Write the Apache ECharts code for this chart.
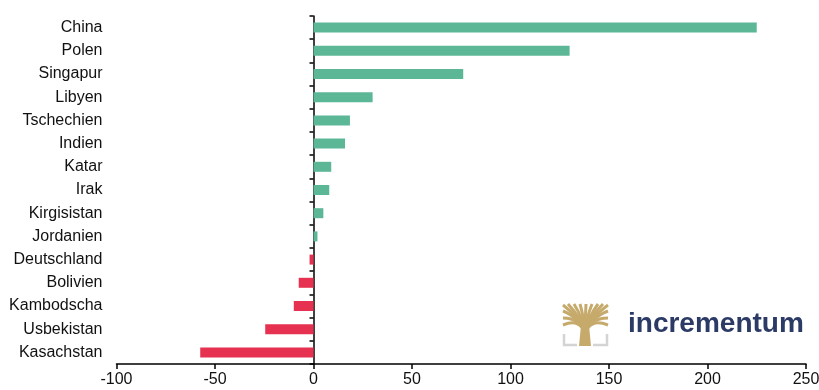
<!DOCTYPE html>
<html>
<head>
<meta charset="utf-8">
<script src="https://cdn.jsdelivr.net/npm/echarts@6/dist/echarts.min.js"></script>
<style>
  html, body { margin: 0; padding: 0; background: #fff; }
  #chart { width: 819px; height: 390px; }
</style>
</head>
<body>
<div id="chart"></div>
<script>
// Countries, top to bottom
const countries = ['China', 'Polen', 'Singapur', 'Libyen', 'Tschechien', 'Indien', 'Katar', 'Irak',
  'Kirgisistan', 'Jordanien', 'Deutschland', 'Bolivien', 'Kambodscha', 'Usbekistan', 'Kasachstan'];
// Net change per country
const values = [225, 130, 76, 30, 18.5, 16, 9, 8, 5, 2, -2, -7.5, -10, -24.5, -57.5];
// Value axis ticks
const xTicks = [-100, -50, 0, 50, 100, 150, 200, 250];

const GREEN = '#5cb797';
const RED = '#e63150';
const FONT = '"Liberation Sans", Arial, sans-serif';

const chart = echarts.init(document.getElementById('chart'), null, { renderer: 'canvas' });

// Tree mark of the logo
const gold = '#c6aa6b';
const grey = '#d4d4d4';
const cx = 585, base = 346;
const branchEnds = [
  [563, 305], [568, 304], [574, 304], [580, 304], [586, 304],
  [592, 304], [598, 304], [603, 304], [608, 305],
  [563, 311], [608, 311], [563, 318], [608, 318], [563, 325], [608, 325]
];
const treeParts = branchEnds.map(([ex, ey]) => ({
  type: 'bezierCurve',
  shape: {
    x1: cx, y1: 334,
    cpx1: cx + (ex - cx) * 0.2, cpy1: 318,
    x2: ex, y2: ey
  },
  style: { stroke: gold, lineWidth: 3, fill: null }
}));
treeParts.push({
  type: 'polygon',
  shape: { points: [[cx - 3.5, 320], [cx + 3.5, 320], [cx + 6, base], [cx - 6, base]] },
  style: { fill: gold }
});
treeParts.push({
  type: 'polyline',
  shape: { points: [[564, 334], [564, 345], [577, 345]] },
  style: { stroke: grey, lineWidth: 2.5, fill: null }
});
treeParts.push({
  type: 'polyline',
  shape: { points: [[593, 345], [607, 345], [607, 334]] },
  style: { stroke: grey, lineWidth: 2.5, fill: null }
});

chart.setOption({
  animation: false,
  backgroundColor: '#fff',
  grid: {
    left: 116.5, right: 13, top: 16, bottom: 26,
    containLabel: false,
    outerBoundsMode: 'none'
  },
  xAxis: {
    type: 'value',
    min: xTicks[0],
    max: xTicks[xTicks.length - 1],
    interval: 50,
    splitLine: { show: false },
    axisLine: { show: true, onZero: false, lineStyle: { color: '#000', width: 1.5 } },
    axisTick: { show: true, length: 5, lineStyle: { color: '#000', width: 1.5 } },
    axisLabel: { color: '#111', fontFamily: FONT, fontSize: 16, margin: 8 }
  },
  yAxis: [
    {
      // country names along the left edge
      type: 'category',
      inverse: true,
      position: 'left',
      data: countries,
      axisLine: { show: false, onZero: false },
      axisTick: { show: false },
      splitLine: { show: false },
      axisLabel: { color: '#111', fontFamily: FONT, fontSize: 16, margin: 14, interval: 0 }
    },
    {
      // zero line with category ticks pointing left
      type: 'category',
      inverse: true,
      position: 'left',
      data: countries,
      axisLine: { show: true, onZero: true, lineStyle: { color: '#000', width: 1.5 } },
      axisTick: { show: true, inside: false, length: 4, lineStyle: { color: '#000', width: 1.5 } },
      splitLine: { show: false },
      axisLabel: { show: false }
    }
  ],
  series: [{
    type: 'bar',
    yAxisIndex: 0,
    data: values.map(v => ({ value: v, itemStyle: { color: v >= 0 ? GREEN : RED } })),
    barWidth: 10
  }],
  graphic: [
    { type: 'group', children: treeParts, z: 10 },
    {
      type: 'text',
      left: 628, top: 310,
      style: {
        text: 'incrementum',
        fill: '#2c3b66',
        font: 'bold 28px "Liberation Sans", Arial, sans-serif'
      },
      z: 10
    }
  ]
});
</script>
</body>
</html>
